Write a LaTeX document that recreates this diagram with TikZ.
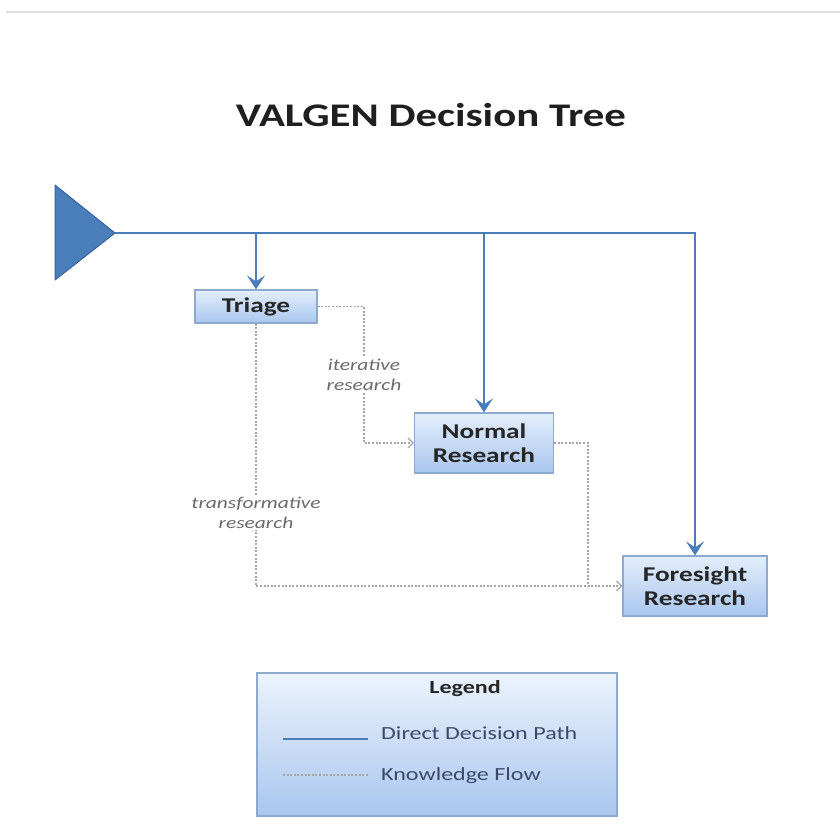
\documentclass[tikz,border=0pt]{standalone}
\usepackage{fontspec}
\setmainfont{Carlito}[FakeStretch=1.3]
\usetikzlibrary{arrows.meta}
\definecolor{lineblue}{HTML}{4A7EBB}
\definecolor{tribg}{HTML}{4A7EBB}
\definecolor{triborder}{HTML}{3A65A0}
\definecolor{boxtop}{HTML}{E4EEFB}
\definecolor{boxbot}{HTML}{A9C6EE}
\definecolor{boxborder}{HTML}{8EA9CF}
\definecolor{flowgray}{HTML}{A6A6A6}
\definecolor{lblgray}{HTML}{6B6B6B}
\definecolor{legtext}{HTML}{3B4A6B}
\tikzset{
  box/.style={draw=boxborder, line width=1.2pt, top color=boxtop, bottom color=boxbot,
    align=center, inner sep=0pt, text=black!85,
    font=\bfseries\fontsize{21}{24}\selectfont},
  direct/.style={draw=lineblue, line width=2.8pt},
  directarrow/.style={direct, -{Stealth[length=14pt,width=18pt,inset=6pt]}},
  flow/.style={draw=flowgray, line width=1.2pt, dash pattern=on 2pt off 1.6pt},
  flowarrow/.style={flow, -{Straight Barb[length=5pt,width=10pt]}},
  lbl/.style={fill=white, align=center, text=lblgray, inner sep=2pt,
    font=\itshape\fontsize{16.5}{20}\selectfont},
  legtxt/.style={anchor=west, text=legtext, inner sep=0pt, font=\fontsize{18.5}{22}\selectfont}
}
\begin{document}
\begin{tikzpicture}[x=1pt,y=-1pt]
\useasboundingbox (0,0) rectangle (840,836);
\draw[gray!25, line width=1.5pt] (6,12) -- (840,12);
\node[font=\bfseries\fontsize{33}{38}\selectfont, text=black!88] (title) at (431,115) {VALGEN Decision Tree};
% start triangle
\filldraw[fill=tribg, draw=triborder, line width=1pt, line join=round] (55,185) -- (115,233) -- (55,280) -- cycle;
\coordinate (start) at (115,233);
% boxes
\node[box, minimum width=122pt, minimum height=33pt] (triage) at (256,306.5) {Triage};
\node[box, minimum width=139pt, minimum height=60pt] (normal) at (484,443) {Normal\\Research};
\node[box, minimum width=144pt, minimum height=60pt] (fore) at (695,586) {Foresight\\Research};
% direct paths
\coordinate (b1) at (triage.north |- start);
\coordinate (b2) at (normal.north |- start);
\draw[directarrow] (start) -| (fore.north);
\draw[directarrow] (b1) -- (triage.north);
\draw[directarrow] (b2) -- (normal.north);
% knowledge flows
\coordinate (k1) at (364,306.5);
\draw[flowarrow] (triage.east) -- (k1) |- node[lbl, pos=0.25] {iterative\\research} (normal.west);
\draw[flowarrow] (triage.south) |- node[lbl, pos=0.36] {transformative\\research} (fore.west);
\coordinate (k2) at (588,586);
\draw[flow] (normal.east) -| (k2);
% legend
\node[box, draw=boxborder, minimum width=360pt, minimum height=143pt, top color=boxtop!70, bottom color=boxbot] (legend) at (437,744.5) {};
\node[text=black!85, font=\bfseries\fontsize{18.5}{22}\selectfont] (legtitle) at (465,689) {Legend};
\coordinate (l1a) at (283,739);
\coordinate (l1b) at (368,739);
\draw[direct, line width=2pt] (l1a) -- (l1b);
\node[legtxt] (l1t) at (381,733) {Direct Decision Path};
\coordinate (l2a) at (283,775);
\coordinate (l2b) at (368,775);
\draw[flow] (l2a) -- (l2b);
\node[legtxt] (l2t) at (381,776) {Knowledge Flow};
\end{tikzpicture}
\end{document}
